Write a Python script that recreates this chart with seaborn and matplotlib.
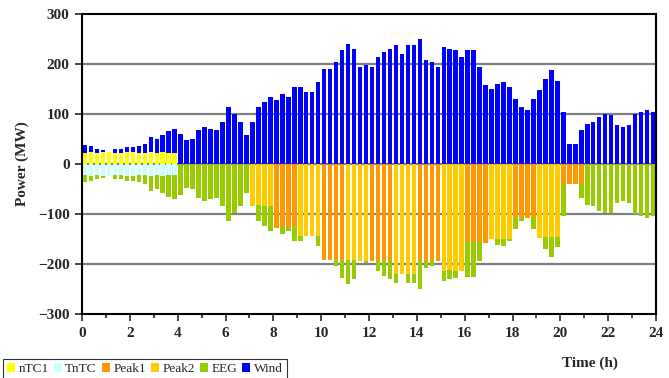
import numpy as np
import pandas as pd
import matplotlib
matplotlib.use("Agg")
import matplotlib.pyplot as plt
import seaborn as sns

# %% data (15 min steps, 96 per day)
time_h = np.arange(96) * 0.25 + 0.125

total_pos = [37, 35, 30, 28, 24, 30, 30, 34, 34, 36, 40, 54, 50, 58, 66, 70,
             60, 48, 50, 68, 74, 70, 68, 84, 114, 100, 84, 58, 84, 114, 124, 134,
             128, 140, 134, 154, 154, 144, 144, 164, 190, 190, 204, 228, 240, 230, 194, 198,
             194, 214, 224, 230, 238, 220, 238, 238, 250, 208, 204, 194, 234, 230, 228, 214,
             228, 228, 194, 158, 150, 160, 164, 154, 130, 114, 108, 130, 148, 170, 188, 166,
             104, 40, 40, 68, 80, 84, 94, 100, 98, 78, 74, 78, 100, 104, 108, 104]

ntc1 = [22, 24, 22, 24, 24, 22, 22, 24, 24, 22, 22, 24, 22, 24, 22, 22] + [0] * 80
tntc = ntc1

peak1 = [0] * 32 + [128, 126, 126, 126] + [0] * 4 + [192, 192, 192, 192] + [0] * 4 + \
        [194, 194, 192, 192] + [0] * 4 + [192, 194, 194, 194] + [0] * 4 + \
        [156, 156, 156, 158] + [0] * 4 + [106, 106, 108, 106] + [0] * 4 + \
        [40, 40, 40, 40] + [0] * 12
peak2 = [0] * 28 + [84, 82, 84, 84] + [0] * 4 + [144, 144, 144, 144] + [0] * 4 + \
        [192, 192, 194, 194] + [0] * 4 + [220, 220, 220, 220] + [0] * 4 + \
        [214, 212, 214, 214] + [0] * 4 + [150, 150, 150, 150] + [0] * 4 + \
        [148, 146, 146, 146] + [0] * 16
eeg = [15, 11, 8, 4, 0, 8, 8, 10, 10, 14, 18, 30, 28, 34, 44, 48,
       62, 48, 50, 68, 74, 70, 68, 84, 114, 98, 84, 58, 0, 32, 40, 50,
       0, 14, 8, 28, 10, 0, 0, 20, 0, 0, 12, 36, 48, 38, 0, 4,
       0, 20, 32, 38, 18, 0, 18, 18, 58, 14, 10, 0, 20, 18, 14, 0,
       70, 70, 38, 0, 0, 12, 14, 4, 24, 8, 0, 24, 0, 24, 40, 20,
       64, 0, 0, 28, 82, 84, 94, 98, 98, 78, 74, 78, 100, 104, 108, 104]

df = pd.DataFrame({"t": time_h, "total": total_pos, "nTC1": ntc1, "TnTC": tntc,
                   "Peak1": peak1, "Peak2": peak2, "EEG": eeg})
df["Wind"] = df["total"] - df["nTC1"]

colors = {"nTC1": "#FFFF00", "TnTC": "#CCFFFF", "Peak1": "#FF9900",
          "Peak2": "#FFCC00", "EEG": "#99CC00", "Wind": "#0000FF"}

# %% plot
sns.set_style("white")
plt.rcParams["font.family"] = ["Liberation Serif", "DejaVu Serif"]

fig, ax = plt.subplots(figsize=(6.69, 3.78), dpi=100)
fig.subplots_adjust(left=0.1226, right=0.9806, top=0.963, bottom=0.1693)

for y in range(-200, 300, 100):
    ax.axhline(y, color="#808080", lw=1.6, zorder=0)

bar_kw = dict(native_scale=True, width=0.75, saturation=1, errorbar=None,
              linewidth=0, ax=ax)

# positive side
sns.barplot(data=df, x="t", y="nTC1", color=colors["nTC1"], label="nTC1", **bar_kw)
# negative side
base = np.zeros(96)
for name in ["TnTC", "Peak1", "Peak2", "EEG"]:
    tmp = pd.DataFrame({"t": time_h, "v": -df[name].values})
    sns.barplot(data=tmp, x="t", y="v", bottom=base, color=colors[name], label=name, **bar_kw)
    base = base - df[name].values
sns.barplot(data=df, x="t", y="Wind", bottom=df["nTC1"].values,
            color=colors["Wind"], label="Wind", **bar_kw)

ax.set_xlim(0, 24)
ax.set_ylim(-300, 300)
ax.set_yticks(range(-300, 301, 100))
ax.set_xticks(range(0, 25, 2))
ax.set_xticks(range(1, 24, 2), minor=True)
ax.tick_params(axis="both", which="major", direction="out", length=5, width=1.2,
               labelsize=11, bottom=True, left=True, pad=4)
ax.tick_params(axis="x", which="minor", direction="out", length=3, width=1.2, bottom=True)
for lab in ax.get_xticklabels() + ax.get_yticklabels():
    lab.set_fontweight("bold")
for sp in ax.spines.values():
    sp.set_color("black")
    sp.set_linewidth(1.5)

ax.set_xlabel("")
ax.set_ylabel("Power (MW)", fontsize=11, fontweight="bold", labelpad=6)
fig.text(0.882, 0.04, "Time (h)", fontsize=11, fontweight="bold", ha="center", va="center")

handles_order = ["nTC1", "TnTC", "Peak1", "Peak2", "EEG", "Wind"]
h, l = ax.get_legend_handles_labels()
hd = dict(zip(l, h))
if ax.get_legend() is not None:
    ax.get_legend().remove()
leg = fig.legend([hd[k] for k in handles_order], handles_order, loc="lower left",
                 bbox_to_anchor=(0.004, -0.005), ncol=6, frameon=True, fancybox=False,
                 edgecolor="black", fontsize=9.5, handlelength=0.6, handleheight=0.6,
                 handletextpad=0.25, columnspacing=0.4, borderpad=0.35, borderaxespad=0)
leg.get_frame().set_linewidth(0.8)

fig.savefig("out.png", dpi=100)
